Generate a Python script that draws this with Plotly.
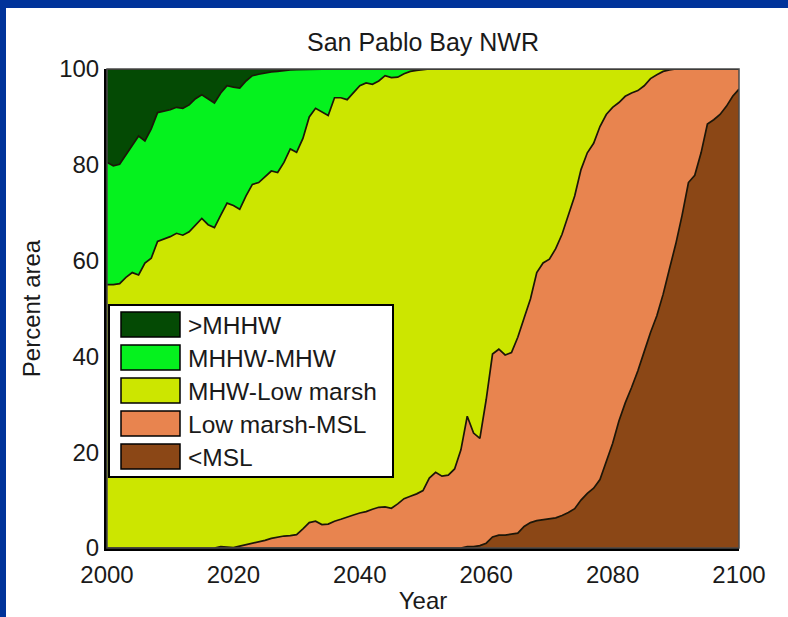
import numpy as np
import plotly.graph_objects as go

# Simulated elevation classes, San Pablo Bay NWR, 2000-2100.
years = list(range(2000, 2101))

# Cumulative percent of area at the top of each class (bottom to top).
top_msl = [
    0, 0, 0, 0, 0, 0, 0, 0, 0, 0,
    0, 0, 0, 0, 0, 0, 0, 0, 0, 0,
    0, 0, 0, 0, 0, 0, 0, 0, 0, 0,
    0, 0, 0, 0, 0, 0, 0, 0, 0, 0,
    0, 0, 0, 0, 0, 0, 0, 0, 0, 0,
    0, 0, 0, 0, 0, 0, 0, 0.3, 0.3, 0.5,
    1.0, 2.3, 2.7, 2.7, 2.9, 3.1, 4.5, 5.3, 5.7, 5.9,
    6.1, 6.3, 6.8, 7.4, 8.2, 10.0, 11.4, 12.5, 14.3, 18.0,
    21.8, 26.5, 30.3, 33.5, 37.0, 41.0, 45.0, 48.5, 53.0, 58.3,
    63.5, 69.5, 76.3, 77.8, 82.5, 88.5, 89.4, 90.5, 92.2, 94.3,
    95.8,
]
top_low_marsh = [
    0, 0, 0, 0, 0, 0, 0, 0, 0, 0,
    0, 0, 0, 0, 0, 0, 0, 0, 0.3, 0.2,
    0.1, 0.4, 0.7, 0.9, 1.2, 1.6, 2.0, 2.3, 2.5, 2.6,
    2.8, 4.0, 5.3, 5.6, 4.9, 5.0, 5.6, 6.0, 6.5, 6.9,
    7.3, 7.6, 8.1, 8.5, 8.6, 8.3, 9.2, 10.3, 10.8, 11.3,
    12.0, 14.6, 15.8, 15.0, 15.2, 16.5, 20.5, 27.5, 24.0, 22.9,
    31.0, 40.5, 41.5, 40.3, 40.8, 44.0, 48.0, 52.0, 57.5, 59.5,
    60.3, 62.5, 65.5, 69.5, 73.5, 79.0, 82.5, 84.5, 88.0, 90.5,
    92.0, 93.0, 94.3, 95.0, 95.5, 96.5, 98.0, 98.8, 99.5, 99.8,
    100, 100, 100, 100, 100, 100, 100, 100, 100, 100,
    100,
]
top_mhw = [
    55.0, 55.0, 55.2, 56.5, 57.5, 57.0, 59.5, 60.5, 64.0, 64.5,
    65.0, 65.7, 65.3, 66.0, 67.5, 68.8, 67.5, 66.9, 69.5, 72.0,
    71.5, 70.7, 73.5, 75.9, 76.3, 77.5, 78.7, 78.4, 80.5, 83.3,
    82.6, 85.5, 90.0, 91.8, 91.0, 90.3, 94.0, 94.0, 93.6, 95.0,
    96.5, 97.1, 96.8, 97.5, 98.6, 98.2, 98.3, 99.0, 99.5, 99.7,
    99.9, 100, 100, 100, 100, 100, 100, 100, 100, 100,
    100, 100, 100, 100, 100, 100, 100, 100, 100, 100,
    100, 100, 100, 100, 100, 100, 100, 100, 100, 100,
    100, 100, 100, 100, 100, 100, 100, 100, 100, 100,
    100, 100, 100, 100, 100, 100, 100, 100, 100, 100,
    100,
]
top_mhhw = [
    80.5, 79.8, 80.1, 82.0, 84.0, 86.0, 85.0, 87.5, 90.9, 91.2,
    91.5, 92.0, 91.8, 92.5, 93.8, 94.6, 93.8, 92.9, 95.0, 96.5,
    96.2, 96.0, 97.5, 98.6, 98.9, 99.2, 99.4, 99.5, 99.7, 99.8,
    99.85, 99.9, 99.9, 99.95, 99.95, 100, 100, 100, 100, 100,
    100, 100, 100, 100, 100, 100, 100, 100, 100, 100,
    100, 100, 100, 100, 100, 100, 100, 100, 100, 100,
    100, 100, 100, 100, 100, 100, 100, 100, 100, 100,
    100, 100, 100, 100, 100, 100, 100, 100, 100, 100,
    100, 100, 100, 100, 100, 100, 100, 100, 100, 100,
    100, 100, 100, 100, 100, 100, 100, 100, 100, 100,
    100,
]

# Classes listed bottom to top of the stack
classes = ["<MSL", "Low marsh-MSL", "MHW-Low marsh", "MHHW-MHW", ">MHHW"]
colors = ["#8B4716", "#E8844F", "#CCE600", "#05F21E", "#044A04"]

x_ticks = [2000, 2020, 2040, 2060, 2080, 2100]
y_ticks = [0, 20, 40, 60, 80, 100]

# Per-class shares from the cumulative class tops
bounds = np.vstack([
    np.zeros(len(years)),
    top_msl, top_low_marsh, top_mhw, top_mhhw,
    np.full(len(years), 100.0),
])
shares = np.diff(bounds, axis=0)

FONT = "Liberation Sans, Arial, sans-serif"
W, H = 788, 617
L, R, T, B = 107, 739, 69, 548


def px(x):
    return (x - L) / (R - L)


def py(y):
    return (B - y) / (B - T)


fig = go.Figure()
for name, color, vals in zip(classes, colors, shares):
    fig.add_trace(go.Scatter(
        x=years, y=vals, name=name, mode="lines",
        stackgroup="area", fillcolor=color,
        line=dict(color="#1c1608", width=1.7),
        showlegend=False,
    ))

shapes = []
# slide border strips (left and top)
shapes.append(dict(type="rect", xref="paper", yref="paper",
                   x0=px(0), x1=px(6), y0=py(H), y1=py(0),
                   fillcolor="#00339A", line_width=0, layer="below"))
shapes.append(dict(type="rect", xref="paper", yref="paper",
                   x0=px(0), x1=px(W), y0=py(8), y1=py(0),
                   fillcolor="#00339A", line_width=0, layer="below"))
# thin frame on top and right
shapes.append(dict(type="rect", xref="paper", yref="paper",
                   x0=0, x1=1, y0=0, y1=1,
                   line=dict(color="#4a4a4a", width=1.5), layer="above"))

# legend box
shapes.append(dict(type="rect", xref="paper", yref="paper",
                   x0=px(109), x1=px(393), y0=py(477), y1=py(305),
                   fillcolor="white", line=dict(color="black", width=2),
                   layer="above"))
annotations = []
legend_order = list(zip(classes, colors))[::-1]
for i, (name, color) in enumerate(legend_order):
    cy = 324.5 + 33 * i
    shapes.append(dict(type="rect", xref="paper", yref="paper",
                       x0=px(121), x1=px(180), y0=py(cy + 12.5), y1=py(cy - 12.5),
                       fillcolor=color, line=dict(color="black", width=1.5),
                       layer="above"))
    annotations.append(dict(xref="paper", yref="paper", x=px(186), y=py(cy + 1),
                            text=name, showarrow=False, xanchor="left",
                            yanchor="middle",
                            font=dict(family=FONT, size=24.5, color="#1a1a1a")))

fig.update_layout(
    width=W, height=H, autosize=False,
    margin=dict(l=L, r=W - R, t=T, b=H - B, pad=0, autoexpand=False),
    paper_bgcolor="white", plot_bgcolor="white",
    font=dict(family=FONT, size=24, color="#1a1a1a"),
    title=dict(text="San Pablo Bay NWR", x=0.5, xref="paper",
               y=1 - 42 / H, yanchor="middle", xanchor="center",
               font=dict(family=FONT, size=25, color="#1a1a1a")),
    xaxis=dict(range=[2000, 2100], tickvals=x_ticks, showgrid=False,
               zeroline=False, showline=True, linecolor="black", linewidth=3,
               ticks="", ticklabelstandoff=3, tickfont=dict(size=24),
               automargin=False,
               title=dict(text="Year", font=dict(size=24), standoff=6)),
    yaxis=dict(range=[0, 100], tickvals=y_ticks, showgrid=False,
               zeroline=False, showline=True, linecolor="black", linewidth=3,
               ticks="", tickfont=dict(size=24), automargin=False,
               title=dict(text="Percent area", font=dict(size=24), standoff=12)),
    shapes=shapes,
    annotations=annotations,
    showlegend=False,
)

fig.write_html("out.html")
